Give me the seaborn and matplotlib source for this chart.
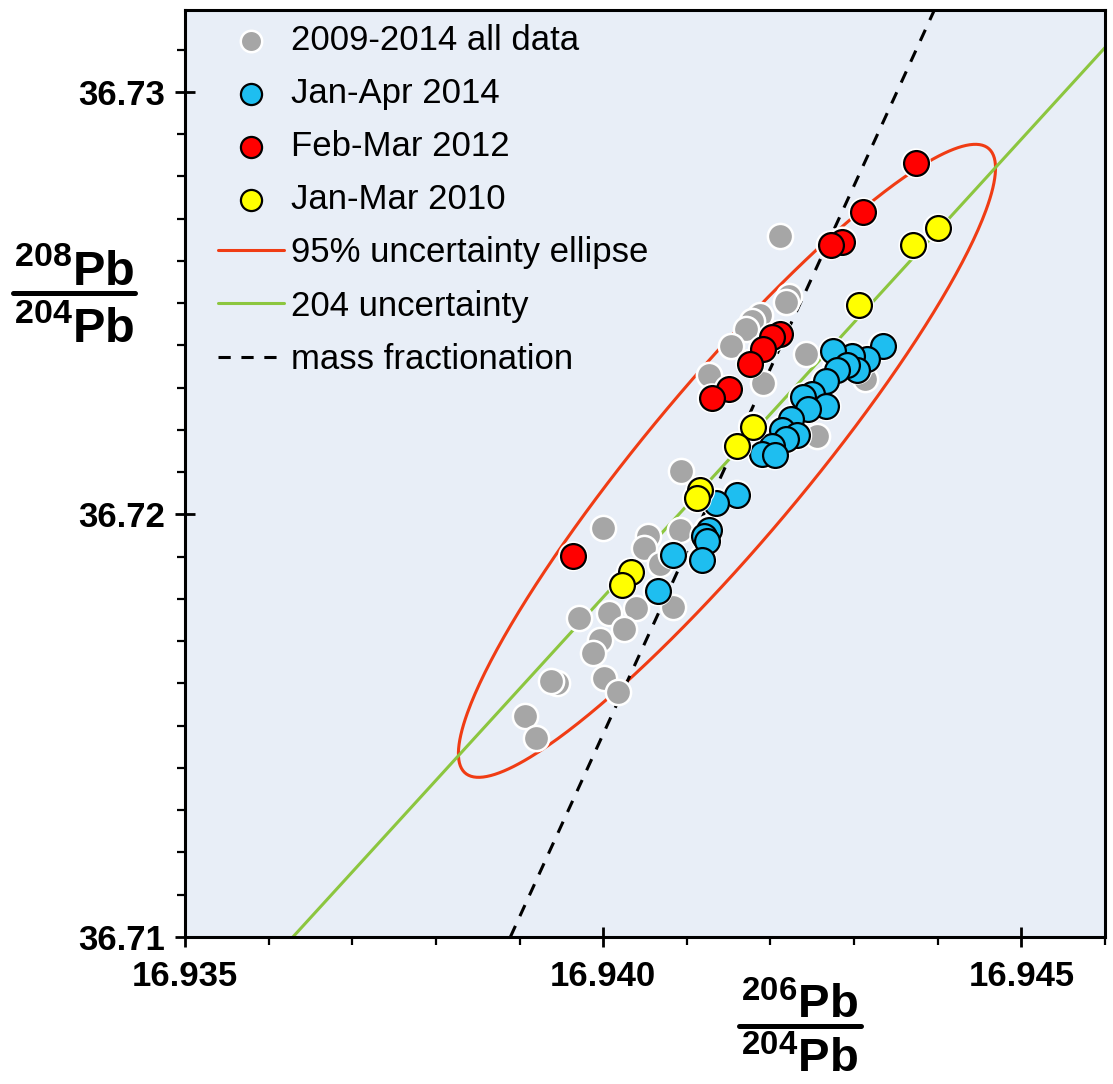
import numpy as np
import matplotlib
matplotlib.use('Agg')
import matplotlib.pyplot as plt
from matplotlib.lines import Line2D
from matplotlib.ticker import MultipleLocator, FormatStrFormatter
import seaborn as sns

# values: x = 206Pb/204Pb, y = 208Pb/204Pb
gray_x = [16.94212, 16.94222, 16.94219, 16.94188, 16.94178, 16.94171, 16.94153, 16.94126,
          16.94191, 16.94242, 16.94313, 16.94256, 16.94093, 16.94092, 16.94000, 16.94054,
          16.94049, 16.94068, 16.94084, 16.94039, 16.94007, 16.93971, 16.94025, 16.93996,
          16.93988, 16.94001, 16.94018, 16.93945, 16.93938, 16.93906, 16.93920]
gray_y = [36.72660, 36.72518, 36.72502, 36.72471, 36.72457, 36.72438, 36.72398, 36.72329,
          36.72312, 36.72379, 36.72320, 36.72185, 36.72104, 36.71964, 36.71967, 36.71950,
          36.71920, 36.71882, 36.71782, 36.71778, 36.71766, 36.71756, 36.71728, 36.71702,
          36.71673, 36.71612, 36.71579, 36.71602, 36.71605, 36.71522, 36.71470]

blue_x = [16.94334, 16.94315, 16.94297, 16.94275, 16.94304, 16.94292, 16.94279, 16.94266,
          16.94250, 16.94239, 16.94267, 16.94245, 16.94225, 16.94214, 16.94232, 16.94219,
          16.94202, 16.94190, 16.94205, 16.94160, 16.94135, 16.94126, 16.94121, 16.94124,
          16.94118, 16.94083, 16.94065]
blue_y = [36.72398, 36.72367, 36.72376, 36.72386, 36.72343, 36.72353, 36.72343, 36.72315,
          36.72284, 36.72277, 36.72256, 36.72249, 36.72225, 36.72201, 36.72187, 36.72178,
          36.72161, 36.72142, 36.72140, 36.72047, 36.72028, 36.71964, 36.71950, 36.71938,
          36.71893, 36.71905, 36.71818]

red_x = [16.94374, 16.94311, 16.94286, 16.94272, 16.94211, 16.94202, 16.94191, 16.94176,
         16.94150, 16.94130, 16.93964]
red_y = [36.72831, 36.72715, 36.72646, 36.72637, 36.72426, 36.72419, 36.72391, 36.72357,
         36.72296, 36.72275, 36.71901]

yellow_x = [16.94400, 16.94371, 16.94306, 16.94179, 16.94160, 16.94116, 16.94112, 16.94033, 16.94023]
yellow_y = [36.72677, 36.72637, 36.72495, 36.72208, 36.72161, 36.72057, 36.72038, 36.71863, 36.71834]

# 95% ellipse: centre, half ranges in x and y, correlation
ell_center = (16.94148, 36.72127)
ell_half = (0.003211, 0.007491)
ell_rho = 0.925

# reference lines (end points)
green_x = [16.93629, 16.94600]
green_y = [36.71000, 36.73105]
dash_x = [16.93889, 16.94396]
dash_y = [36.71000, 36.73194]

W, H = 1113, 1084

sns.set_theme(style='ticks')
plt.rcParams['font.family'] = ['Liberation Sans', 'DejaVu Sans']
plt.rcParams['mathtext.fontset'] = 'custom'
plt.rcParams['mathtext.rm'] = 'Liberation Sans'
plt.rcParams['mathtext.bf'] = 'Liberation Sans:bold'
plt.rcParams['text.color'] = 'black'
plt.rcParams['xtick.color'] = 'black'
plt.rcParams['ytick.color'] = 'black'

fig = plt.figure(figsize=(W / 100, H / 100), dpi=100)
ax = fig.add_axes([185 / W, 1 - 937 / H, 920 / W, 927 / H])
ax.set_facecolor('#e8eef7')

# ellipse outline
t = np.linspace(0, 2 * np.pi, 400)
ex = ell_center[0] + ell_half[0] * np.cos(t)
ey = ell_center[1] + ell_half[1] * (ell_rho * np.cos(t) + np.sqrt(1 - ell_rho ** 2) * np.sin(t))
sns.lineplot(x=ex, y=ey, sort=False, estimator=None, color='#f03c14', lw=2.2,
             label='95% uncertainty ellipse', ax=ax, zorder=2)
sns.lineplot(x=green_x, y=green_y, color='#8cc63f', lw=2.2, label='204 uncertainty', ax=ax, zorder=2)
sns.lineplot(x=dash_x, y=dash_y, color='black', lw=2.2, linestyle=(0, (4, 3.5)),
             label='mass fractionation', ax=ax, zorder=2)

sns.scatterplot(x=gray_x, y=gray_y, s=330, color='#a6a6a6', edgecolor='white', linewidth=1.8,
                label='2009-2014 all data', ax=ax, zorder=3)

groups = [(blue_x, blue_y, '#1ebef0', 'Jan-Apr 2014'),
          (red_x, red_y, '#ff0000', 'Feb-Mar 2012'),
          (yellow_x, yellow_y, '#ffff00', 'Jan-Mar 2010')]
z = 4
for gx, gy, col, lab in groups:
    sns.scatterplot(x=gx, y=gy, s=470, color='white', edgecolor='none', legend=False, ax=ax, zorder=z)
    sns.scatterplot(x=gx, y=gy, s=320, color=col, edgecolor='black', linewidth=1.6,
                    label=lab, ax=ax, zorder=z + 0.5)
    z += 1

ax.set_xlim(16.935, 16.946)
ax.set_ylim(36.71, 36.73194)
ax.xaxis.set_major_locator(MultipleLocator(0.005))
ax.xaxis.set_minor_locator(MultipleLocator(0.001))
ax.yaxis.set_major_locator(MultipleLocator(0.01))
ax.yaxis.set_minor_locator(MultipleLocator(0.001))
ax.xaxis.set_major_formatter(FormatStrFormatter('%.3f'))
ax.yaxis.set_major_formatter(FormatStrFormatter('%.2f'))
ax.tick_params(which='major', direction='inout', length=15, width=2, labelsize=25, pad=7,
               colors='black')
ax.tick_params(which='minor', direction='out', length=6, width=1.6, colors='black')
ax.tick_params(axis='x', which='major', pad=9)
for lab in ax.get_xticklabels() + ax.get_yticklabels():
    lab.set_fontweight('bold')
for sp in ax.spines.values():
    sp.set_linewidth(2.2)
    sp.set_color('black')
ax.set_xlabel('')
ax.set_ylabel('')

order = ['2009-2014 all data', 'Jan-Apr 2014', 'Feb-Mar 2012', 'Jan-Mar 2010',
         '95% uncertainty ellipse', '204 uncertainty', 'mass fractionation']
handles, labels = ax.get_legend_handles_labels()
hmap = dict(zip(labels, handles))
ax.legend([hmap[k] for k in order], order, loc='upper left', bbox_to_anchor=(0.036, 0.985),
          frameon=False, fontsize=25, handlelength=1.9, handletextpad=0.2, labelspacing=0.58,
          borderpad=0, borderaxespad=0, markerscale=0.85)


def fraction(xc, y_num, y_bar, y_den, num, den, size):
    fig.text(xc / W, 1 - y_num / H, num, ha='center', va='baseline', fontsize=size, color='black')
    fig.add_artist(Line2D([(xc - 61) / W, (xc + 61) / W], [1 - y_bar / H] * 2, color='black', lw=3.6))
    fig.text(xc / W, 1 - y_den / H, den, ha='center', va='baseline', fontsize=size, color='black')


fraction(74, 285, 292.5, 342, r'$\mathbf{^{208}Pb}$', r'$\mathbf{^{204}Pb}$', 35)
fraction(800, 1018, 1026, 1072, r'$\mathbf{^{206}Pb}$', r'$\mathbf{^{204}Pb}$', 34)

fig.savefig('out.png', dpi=100, facecolor='white')
